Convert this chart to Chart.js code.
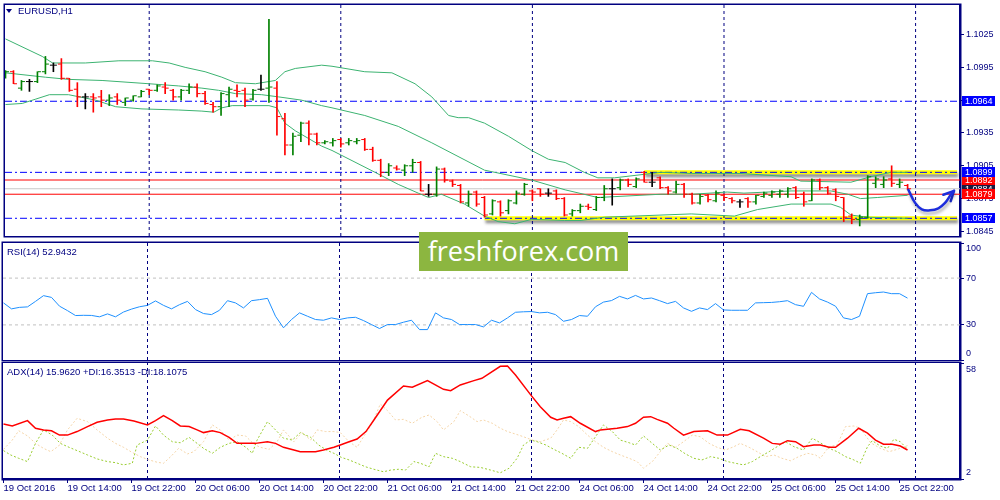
<!DOCTYPE html>
<html>
<head>
<meta charset="utf-8">
<title>EURUSD,H1</title>
<script src="https://cdn.jsdelivr.net/npm/chart.js@4.4.1/dist/chart.umd.min.js"></script>
<style>
  html, body { margin:0; padding:0; background:#ffffff; }
  #wrap { position:relative; width:1000px; height:500px; overflow:hidden; background:#ffffff; }
  #wrap canvas { position:absolute; left:0; }
  .ttl { position:absolute; font-family:"Liberation Sans", Arial, sans-serif; font-size:9.5px; line-height:12px; color:#000080; white-space:nowrap; }
  #tri { position:absolute; left:6px; top:9px; width:0; height:0; border-left:3.5px solid transparent; border-right:3.5px solid transparent; border-top:4px solid #000080; }
  #logo { position:absolute; left:419px; top:232px; width:209px; height:39px; background:#8cb640; color:#ffffff; font-family:"Open Sans", sans-serif; font-size:27px; line-height:38px; text-align:center; }
</style>
</head>
<body>
<div id="wrap">
  <canvas id="cMain" width="1000" height="241" style="top:0px"></canvas>
  <canvas id="cRsi" width="1000" height="120" style="top:241px"></canvas>
  <canvas id="cAdx" width="1000" height="139" style="top:361px"></canvas>
  <div id="tri"></div>
  <div class="ttl" style="left:18px;top:5px">EURUSD,H1</div>
  <div class="ttl" style="left:7px;top:246px">RSI(14) 52.9432</div>
  <div class="ttl" style="left:7px;top:366px">ADX(14) 15.9620 +DI:16.3513 -DI:18.1075</div>
  <div id="logo">freshforex.com</div>
</div>
<script>
// ---------------- DATA ----------------
const timeLabels = ['19 Oct 2016','19 Oct 14:00','19 Oct 22:00','20 Oct 06:00','20 Oct 14:00','20 Oct 22:00','21 Oct 06:00','21 Oct 14:00','21 Oct 22:00','24 Oct 06:00','24 Oct 14:00','24 Oct 22:00','25 Oct 06:00','25 Oct 14:00','25 Oct 22:00'];
const timeLabelBars = [0,8,16,24,32,40,48,56,64,72,80,88,96,104,112];
const daySeparators = [18,42,66,90,114];

const opens = [1.0986,1.0991,1.0976,1.0982,1.0982,1.0991,1.0997,1.0998,1.0985,1.0975,
1.0968,1.0968,1.0968,1.0965,1.0968,1.0963,1.0965,1.0968,1.0975,1.0974,
1.0977,1.0974,1.0968,1.0974,1.0977,1.0971,1.0961,1.0959,1.0970,1.0974,
1.0974,1.0966,1.0975,1.0976,1.0976,1.0948,1.0924,1.0933,1.0944,1.0934,
1.0926,1.0926,1.0929,1.0926,1.0927,1.0929,1.0920,1.0910,1.0899,1.0903,
1.0901,1.0905,1.0908,1.0879,1.0879,1.0902,1.0891,1.0887,1.0871,1.0881,
1.0876,1.0861,1.0872,1.0864,1.0871,1.0879,1.0882,1.0884,1.0880,1.0882,
1.0875,1.0861,1.0864,1.0868,1.0865,1.0876,1.0884,1.0885,1.0892,1.0886,
1.0899,1.0890,1.0894,1.0885,1.0881,1.0888,1.0879,1.0871,1.0878,1.0873,
1.0878,1.0875,1.0872,1.0875,1.0872,1.0877,1.0878,1.0879,1.0879,1.0885,
1.0879,1.0873,1.0892,1.0885,1.0883,1.0876,1.0859,1.0856,1.0858,1.0889,
1.0888,1.0893,1.0888,1.0887];
const highs = [1.0992,1.0992,1.0983,1.0984,1.0991,1.1005,1.0999,1.1003,1.0985,1.0981,
1.0971,1.0971,1.0974,1.0970,1.0971,1.0967,1.0969,1.0974,1.0975,1.0979,
1.0981,1.0975,1.0975,1.0980,1.0980,1.0973,1.0963,1.0972,1.0977,1.0979,
1.0976,1.0975,1.0988,1.1039,1.0982,1.0953,1.0935,1.0945,1.0946,1.0935,
1.0928,1.0930,1.0930,1.0930,1.0930,1.0930,1.0922,1.0911,1.0907,1.0905,
1.0906,1.0911,1.0909,1.0888,1.0904,1.0903,1.0892,1.0888,1.0882,1.0882,
1.0877,1.0874,1.0873,1.0874,1.0882,1.0889,1.0883,1.0884,1.0884,1.0883,
1.0876,1.0865,1.0870,1.0870,1.0877,1.0887,1.0893,1.0893,1.0893,1.0894,
1.0900,1.0899,1.0895,1.0886,1.0891,1.0889,1.0880,1.0879,1.0879,1.0882,
1.0879,1.0876,1.0874,1.0876,1.0878,1.0881,1.0882,1.0883,1.0885,1.0886,
1.0881,1.0893,1.0893,1.0886,1.0884,1.0876,1.0861,1.0860,1.0896,1.0895,
1.0895,1.0905,1.0893,1.0888];
const lows = [1.0985,1.0980,1.0974,1.0973,1.0981,1.0989,1.0991,1.0984,1.0973,1.0959,
1.0957,1.0954,1.0959,1.0960,1.0961,1.0960,1.0964,1.0968,1.0970,1.0973,
1.0971,1.0965,1.0965,1.0971,1.0968,1.0961,1.0954,1.0951,1.0959,1.0968,
1.0959,1.0965,1.0974,1.0963,1.0933,1.0915,1.0915,1.0927,1.0924,1.0924,
1.0925,1.0923,1.0922,1.0924,1.0925,1.0919,1.0909,1.0895,1.0896,1.0901,
1.0896,1.0899,1.0882,1.0877,1.0877,1.0890,1.0886,1.0871,1.0868,1.0868,
1.0858,1.0860,1.0859,1.0861,1.0870,1.0878,1.0873,1.0877,1.0877,1.0874,
1.0859,1.0859,1.0862,1.0865,1.0864,1.0873,1.0869,1.0883,1.0886,1.0885,
1.0890,1.0886,1.0884,1.0879,1.0880,1.0876,1.0870,1.0870,1.0872,1.0872,
1.0873,1.0871,1.0867,1.0867,1.0870,1.0876,1.0876,1.0876,1.0876,1.0875,
1.0868,1.0873,1.0883,1.0879,1.0873,1.0854,1.0852,1.0850,1.0857,1.0885,
1.0885,1.0886,1.0885,1.0883];
const closes = [1.0991,1.0980,1.0982,1.0982,1.0991,1.0998,1.0997,1.0985,1.0974,1.0968,
1.0968,1.0967,1.0965,1.0967,1.0965,1.0967,1.0969,1.0973,1.0974,1.0978,
1.0976,1.0968,1.0974,1.0977,1.0971,1.0962,1.0959,1.0971,1.0975,1.0973,
1.0965,1.0974,1.0975,1.0977,1.0950,1.0924,1.0932,1.0944,1.0934,1.0926,
1.0927,1.0928,1.0925,1.0928,1.0928,1.0920,1.0910,1.0899,1.0905,1.0902,
1.0905,1.0908,1.0882,1.0879,1.0902,1.0892,1.0888,1.0872,1.0879,1.0870,
1.0860,1.0873,1.0862,1.0873,1.0880,1.0888,1.0881,1.0879,1.0880,1.0875,
1.0860,1.0864,1.0868,1.0867,1.0876,1.0884,1.0884,1.0892,1.0888,1.0893,
1.0890,1.0890,1.0885,1.0882,1.0888,1.0879,1.0871,1.0877,1.0874,1.0880,
1.0876,1.0873,1.0872,1.0872,1.0878,1.0880,1.0881,1.0882,1.0884,1.0876,
1.0872,1.0892,1.0885,1.0880,1.0877,1.0858,1.0856,1.0858,1.0895,1.0893,
1.0892,1.0889,1.0890,1.0884];

// Bollinger bands: [bar, price]
const bbUpper = [[0,1.1021],[4.6,1.1005],[5.9,1.0999],[10,1.0999],[14.2,1.1001],[18.4,1.1001],[20.5,1.0999],[22.5,1.0995],[25,1.0991],[27.1,1.0986],[28.8,1.0981],[31.3,1.0980],[33.8,1.0983],[35,1.0991],[36.3,1.0994],[39.6,1.0997],[40.9,1.0996],[45,1.0991],[48.4,1.0990],[51.3,1.0980],[53.4,1.0968],[55.5,1.0951],[56.7,1.0949],[58,1.0949],[60,1.0944],[63,1.0932],[65.9,1.0919],[68,1.0911],[70.1,1.0908],[72.5,1.0899],[74.2,1.0894],[76.3,1.0894],[82.1,1.0899],[85.9,1.0898],[92,1.0898],[98.4,1.0895],[99.6,1.0891],[105.9,1.0890],[108.4,1.0895],[110.9,1.0899],[113,1.0899]];
const bbMiddle = [[0,1.0990],[5,1.0986],[7.9,1.0984],[12.1,1.0983],[18,1.0980],[21.7,1.0978],[24.6,1.0976],[26.7,1.0974],[28.8,1.0971],[32.1,1.0970],[34.2,1.0968],[37.1,1.0965],[39.6,1.0960],[40.9,1.0958],[45,1.0951],[49.2,1.0941],[53.4,1.0926],[60,1.0901],[65.9,1.0892],[70.1,1.0883],[74.2,1.0876],[82.1,1.0879],[86,1.0879],[90.4,1.0881],[92.5,1.0880],[98.4,1.0882],[103.4,1.0882],[105.5,1.0879],[107.1,1.0875],[109.2,1.0876],[113,1.0878]];
const bbLower = [[0,1.0961],[2.1,1.0962],[3.8,1.0966],[5.5,1.0970],[7.9,1.0970],[11.3,1.0965],[13.8,1.0959],[17.1,1.0957],[21.7,1.0956],[24.6,1.0955],[26.1,1.0954],[27.1,1.0958],[28.4,1.0960],[33,1.0960],[34,1.0958],[35,1.0944],[36.3,1.0937],[39.6,1.0923],[40.9,1.0919],[46.3,1.0899],[49.2,1.0888],[51.7,1.0880],[53,1.0876],[54.6,1.0879],[57.5,1.0870],[60,1.0859],[61.7,1.0854],[63.8,1.0852],[65.9,1.0856],[70,1.0855],[72.1,1.0855],[75,1.0858],[85.9,1.0861],[91.3,1.0859],[94.2,1.0865],[98.4,1.0870],[103.4,1.0870],[104.6,1.0867],[105.9,1.0860],[107.9,1.0858],[113,1.0857]];

// Price levels and drawn objects
const priceTicks = [1.0845,1.0875,1.0905,1.0935,1.0965,1.0995,1.1025];
const bluePriceLevels = [1.0964,1.0899,1.0857];
const redPriceLevels = [1.0892,1.0879];
const bidPrice = 1.0884;
const yellowTop = [[80,1.0899],[119.2,1.0899]];
const yellowBottom = [[60,1.0857],[119.2,1.0857]];
const arrowPath = [[113.1,1.08830],[113.94,1.08711],[114.78,1.08652],[115.81,1.08643],[116.85,1.08661],[117.69,1.08711],[118.4,1.08785],[118.81,1.08821]];
const arrowHead = [[117.48,1.08785],[118.81,1.08821],[118.4,1.08727]];

// RSI(14)
const rsiTicks = [0,30,70,100];
const rsiLevels = [30,70];
const rsiValues = [48.8,43.7,45.0,45.4,50.1,55.0,53.5,46.0,42.2,38.0,
38.2,38.1,36.9,39.4,36.9,41.0,43.5,45.5,46.7,50.5,
46.7,43.7,47.3,50.1,43.1,39.7,38.8,42.5,50.7,48.8,
44.5,50.7,51.6,52.7,37.4,27.5,34.6,40.3,37.4,34.6,
34.0,36.0,34.6,36.0,36.5,33.7,30.3,26.9,30.3,30.3,
32.3,34.0,26.0,26.0,40.3,36.0,34.6,30.3,30.3,30.3,
28.3,34.0,31.7,36.0,40.8,41.2,41.4,40.3,40.8,38.8,
33.1,34.6,38.0,37.4,45.5,49.5,50.8,54.4,52.2,55.2,
52.2,53.0,50.7,48.2,50.1,44.5,41.6,44.5,43.1,48.2,
42.8,42.5,42.5,42.5,48.8,49.0,49.2,49.8,50.7,47.3,
45.9,57.8,52.2,49.5,46.0,36.0,34.6,37.4,56.7,57.5,
58.1,56.7,56.7,52.9];

// ADX(14): [bar, value]
const adxTicks = [2,58];
const adxMain = [[0,28.6],[1.1,27.6],[3,30.2],[4,26.5],[5,25.7],[6,25.3],[7,23.2],[8,23.2],[9.2,24.9],[10.5,27.3],[11.7,29.4],[13,30.5],[14,31.0],[15,31.0],[16.3,30.0],[18,28.1],[19,30.2],[20,32.6],[21.1,30.2],[22.1,27.6],[23.2,27.3],[24.2,25.7],[25,24.4],[26.1,25.3],[27.1,24.4],[28.2,22.1],[29.2,19.2],[30.3,19.2],[31.5,19.2],[33,20.0],[34,19.2],[35,17.3],[36.3,16.0],[37.1,15.2],[39,15.2],[40,16.0],[41.3,17.3],[42.1,18.4],[43.2,20.0],[44.2,21.3],[45.3,24.9],[46.3,30.5],[48,40.1],[50,46.9],[51.1,46.3],[53,49.5],[55,45.3],[55.9,44.6],[57.1,47.4],[58.8,49.5],[59.8,50.6],[62.1,56.4],[63,56.6],[64,52.2],[65.9,42.6],[67.1,36.9],[68.4,31.8],[69.2,30.5],[70,31.3],[70.9,32.1],[72.1,28.9],[74,24.9],[74.6,25.7],[76.7,26.5],[78,27.3],[79,28.9],[80,31.8],[80.9,32.1],[81.7,30.8],[83,28.9],[83.8,26.5],[85,23.2],[86.3,24.9],[88,25.3],[89.2,23.2],[90.5,23.2],[92.1,26.0],[93.2,25.3],[95,21.7],[96.1,19.2],[97.1,18.8],[98,20.5],[99,20.0],[100,17.6],[101.3,18.4],[102.1,18.4],[103.2,17.3],[104,17.3],[105.5,21.7],[106.9,26.5],[108,24.1],[109,20.8],[110,18.8],[111.1,18.8],[112.1,17.9],[113,16.0]];
const plusDI = [[0,15.7],[0.9,13.6],[1.9,12.0],[3,10.4],[4,19.2],[5,25.7],[6.1,23.2],[7.1,19.2],[8.2,17.3],[9.2,15.7],[10.5,13.6],[11.7,11.7],[13,10.4],[14,9.9],[15,8.8],[16.1,9.6],[16.7,18.4],[18,20.8],[19,27.6],[20,23.2],[21.1,20.0],[22.1,19.5],[23.2,22.1],[24.2,19.2],[25,16.8],[26.1,14.4],[27.1,17.3],[28.2,19.2],[29.2,20.0],[30.3,17.3],[31.1,14.4],[31.7,20.8],[33,29.7],[34,25.7],[35,21.7],[36.1,20.8],[37.1,24.4],[38.4,22.1],[39.4,18.4],[40.5,15.7],[41.3,14.4],[42.2,12.5],[43.2,11.2],[44.2,9.6],[45.25,7.9],[46.3,6.7],[47.5,5.5],[48.4,6.3],[49.4,6.7],[50.25,6.3],[51.3,10.4],[52.1,9.6],[53.2,7.9],[54,14.4],[55,12.8],[56.1,12.0],[57.1,10.4],[58.4,7.9],[59.6,7.6],[60.9,6.3],[62.1,5.0],[63.2,7.2],[64.2,12.0],[65,18.4],[65.9,20.8],[66.7,20.0],[67.8,18.4],[68.8,16.3],[69.8,14.4],[70.9,12.0],[71.9,17.3],[73,16.8],[74,22.4],[75,28.1],[76.1,24.9],[77.1,20.8],[78.2,19.5],[79,18.4],[80,22.8],[81.1,19.2],[82.1,16.0],[83.2,18.4],[84.2,16.8],[85.25,14.1],[86.3,12.0],[87.3,11.2],[88.4,12.8],[89.4,12.0],[90.5,10.4],[91.5,9.6],[92.5,8.8],[93.6,10.4],[94.6,12.8],[95.7,15.2],[96.7,17.6],[97.75,20.0],[98.8,17.6],[100,16.0],[101.1,21.7],[102.1,19.5],[103.2,16.8],[104.2,15.2],[105.25,12.8],[106.3,11.2],[107.1,9.6],[108,17.6],[108.6,20.5],[109.6,17.9],[110.5,16.8],[111.3,21.2],[112.1,20.0],[113,16.4]];
const minusDI = [[0,16.3],[1.1,20.8],[1.9,25.3],[3,22.8],[4,19.2],[5,16.8],[5.9,15.2],[6.9,17.9],[8,25.7],[9.2,31.3],[10.5,29.7],[11.7,25.7],[13,21.7],[14,19.2],[15,17.3],[16.1,14.8],[17.1,12.8],[18.2,11.2],[19.2,10.1],[20,9.6],[20.9,12.8],[21.9,16.8],[23,14.1],[23.8,15.2],[25,20.0],[26.1,28.1],[27.1,25.7],[28.2,20.8],[29.2,23.2],[30.25,22.8],[31.3,18.8],[32.1,17.3],[33.2,16.3],[34.2,20.0],[35,25.7],[36.3,20.0],[37.3,24.4],[38.4,20.8],[39.2,25.7],[40.25,24.9],[41.3,24.9],[42.1,24.4],[43.2,20.0],[44.2,17.3],[45,22.4],[46.1,28.9],[47.1,38.2],[48,35.0],[49,30.5],[50,30.8],[51.1,28.9],[52.3,31.8],[53.2,32.9],[54.2,29.7],[55,25.7],[56.3,29.7],[57.1,35.0],[58.2,32.4],[59.2,29.7],[60,30.5],[61.1,28.9],[62.1,26.5],[63,24.9],[64,23.7],[65,22.4],[66.1,20.8],[67.1,20.0],[68.4,21.7],[69.2,25.7],[70,30.5],[70.9,29.7],[71.9,27.3],[73,23.2],[74,20.0],[75,17.3],[76.1,15.2],[77.1,13.6],[78.2,12.0],[79.2,10.4],[80,7.2],[81.1,10.4],[82.1,15.2],[83,19.2],[84,17.3],[85,20.0],[86.1,23.2],[87.1,22.4],[88.2,19.2],[89.2,17.3],[90.25,16.0],[91.3,17.6],[92.1,19.2],[93.2,17.3],[94.2,15.2],[95.25,12.8],[96.3,13.6],[97.3,12.0],[98.4,10.8],[99.4,12.8],[100.5,14.4],[101.5,13.6],[102.1,12.0],[103.2,17.6],[104.2,18.4],[105.25,27.3],[106.3,27.6],[107.1,26.5],[108.4,19.5],[109.6,16.8],[110.7,15.2],[111.7,16.3],[113,18.1]];

// ---------------- STYLE / BUILD ----------------
const NAVY = '#000080', GREEN = '#008000', RED = '#FF0000', BLUE = '#0000FF';
const FONT = "'Liberation Sans', Arial, sans-serif";
Chart.defaults.font.family = FONT;
Chart.defaults.font.size = 9.5;
Chart.defaults.color = NAVY;

const X_MIN = -0.0625, X_MAX = 119.5625;
const P_MIN = 1.08408, P_MAX = 1.10520;

const idx = opens.map((_, i) => i);
const barColors = idx.map(i => closes[i] > opens[i] ? GREEN : (closes[i] < opens[i] ? RED : '#000000'));
const pts = arr => arr.map(p => ({x: p[0], y: p[1]}));
const hline = (y, color, width, dash, order) => ({type:'line', data:[{x:X_MIN, y}, {x:X_MAX, y}], borderColor:color, borderWidth:width, borderDash:dash, pointRadius:0, order});
const sepSets = (lo, hi) => daySeparators.map(s => ({type:'line', data:[{x:s, y:lo}, {x:s, y:hi}], borderColor:NAVY, borderWidth:1, borderDash:[3,3], pointRadius:0, order:90}));
const noPad = s => { s.paddingTop = 0; s.paddingBottom = 0; s.paddingLeft = 0; s.paddingRight = 0; };

const shadowPlugin = {
  id:'shadow',
  beforeDatasetDraw(chart, args) {
    const ds = chart.data.datasets[args.index];
    if (ds.shadow) { const c = chart.ctx; c.save(); c.shadowColor = ds.shadow; c.shadowBlur = 3; c.shadowOffsetX = 1; c.shadowOffsetY = 3; }
  },
  afterDatasetDraw(chart, args) {
    const ds = chart.data.datasets[args.index];
    if (ds.shadow) chart.ctx.restore();
  }
};
const framePlugin = {
  id:'frame',
  afterDraw(chart) {
    const {ctx, chartArea:a} = chart;
    ctx.save(); ctx.strokeStyle = NAVY; ctx.lineWidth = 1.5;
    ctx.strokeRect(a.left - 0.75, a.top - 0.75, a.right - a.left + 1.5, a.bottom - a.top + 1.5);
    ctx.restore();
  }
};
const priceMarks = [
  {price:bidPrice, bg:'#1a1a40', fg:'#ffffff'},
  {price:bluePriceLevels[0], bg:BLUE, fg:'#ffffff'},
  {price:bluePriceLevels[2], bg:BLUE, fg:'#ffffff'},
  {price:redPriceLevels[0], bg:RED, fg:'#ffffff'},
  {price:bluePriceLevels[1], bg:BLUE, fg:'#ffffff'},
  {price:redPriceLevels[1], bg:RED, fg:'#ffffff'}
];
const priceBoxPlugin = {
  id:'priceBoxes',
  afterDraw(chart) {
    const ctx = chart.ctx, ys = chart.scales.y;
    ctx.save(); ctx.font = '9px ' + FONT; ctx.textBaseline = 'middle';
    priceMarks.forEach(m => {
      const y = ys.getPixelForValue(m.price);
      ctx.fillStyle = m.bg; ctx.fillRect(962, Math.round(y) - 5, 33, 10);
      ctx.fillStyle = m.fg; ctx.fillText(m.price.toFixed(4), 965, Math.round(y) + 0.5);
    });
    ctx.restore();
  }
};
const sideLabelPlugin = (ticks, dys, fmt) => ({
  id:'sideLabels',
  afterDraw(chart) {
    const ctx = chart.ctx, ys = chart.scales.y;
    ctx.save(); ctx.font = '9px ' + FONT; ctx.textBaseline = 'middle'; ctx.fillStyle = NAVY;
    ticks.forEach((v, k) => ctx.fillText(fmt(v), 966, ys.getPixelForValue(v) + dys[k]));
    ctx.restore();
  }
});

const common = {
  responsive:false, animation:false, events:[],
  plugins:{legend:{display:false}, tooltip:{enabled:false}}
};
const hiddenX = {type:'linear', display:false, min:X_MIN, max:X_MAX, offset:false};
const sideY = (min, max, ticks) => ({
  type:'linear', position:'right', min, max,
  afterFit(s) { s.width = 40; noPad(s); },
  afterBuildTicks(s) { s.ticks = ticks.map(v => ({value:v})); },
  ticks:{display:false},
  grid:{drawOnChartArea:false, drawTicks:true, tickLength:4, tickColor:NAVY},
  border:{display:true, color:NAVY, width:2}
});

// ---- main price chart ----
new Chart(document.getElementById('cMain'), {
  type:'line',
  data:{datasets:[
    hline(bidPrice, '#C8C8C8', 1, [], 100),
    ...redPriceLevels.map(p => hline(p, RED, 1, [], 99)),
    {type:'line', data:pts(yellowTop), borderColor:'#FFFF00', borderWidth:4, pointRadius:0, order:98, shadow:'rgba(0,0,0,0.45)'},
    {type:'line', data:pts(yellowBottom), borderColor:'#FFFF00', borderWidth:4, pointRadius:0, order:98, shadow:'rgba(0,0,0,0.45)'},
    ...bluePriceLevels.map(p => hline(p, BLUE, 1, [7,3,2,3], 97)),
    ...sepSets(P_MIN, P_MAX),
    {type:'line', data:pts(bbUpper), borderColor:'#3CB371', borderWidth:1, pointRadius:0, order:50},
    {type:'line', data:pts(bbMiddle), borderColor:'#3CB371', borderWidth:1, pointRadius:0, order:50},
    {type:'line', data:pts(bbLower), borderColor:'#3CB371', borderWidth:1, pointRadius:0, order:50},
    {type:'bar', data:idx.map(i => ({x:i, y:[lows[i], highs[i]]})), backgroundColor:barColors, barThickness:1, borderWidth:0, order:10},
    {type:'line', data:idx.map(i => ({x:i - 0.25, y:opens[i]})), showLine:false, pointStyle:'line', pointRadius:1.5, pointBorderWidth:1, pointBorderColor:barColors, pointBackgroundColor:barColors, order:5},
    {type:'line', data:idx.map(i => ({x:i + 0.25, y:closes[i]})), showLine:false, pointStyle:'line', pointRadius:1.5, pointBorderWidth:1, pointBorderColor:barColors, pointBackgroundColor:barColors, order:5},
    {type:'line', data:pts(arrowPath), borderColor:'#1E2EDC', borderWidth:2.5, tension:0.45, pointRadius:0, borderCapStyle:'round', order:1, shadow:'rgba(0,0,0,0.3)'},
    {type:'line', data:pts(arrowHead), borderColor:'#1E2EDC', borderWidth:2.5, pointRadius:0, borderCapStyle:'round', borderJoinStyle:'round', order:1}
  ]},
  options:{...common,
    layout:{padding:{left:3, top:2, right:0, bottom:2}},
    scales:{x:hiddenX, y:sideY(P_MIN, P_MAX, priceTicks)}
  },
  plugins:[shadowPlugin, framePlugin, sideLabelPlugin(priceTicks, priceTicks.map(() => 0), v => v.toFixed(4)), priceBoxPlugin]
});

// ---- RSI ----
new Chart(document.getElementById('cRsi'), {
  type:'line',
  data:{datasets:[
    ...rsiLevels.map(v => hline(v, '#C0C0C0', 1, [3,3], 100)),
    ...sepSets(0, 100),
    {type:'line', data:rsiValues.map((v, i) => ({x:i, y:v})), borderColor:'#1E90FF', borderWidth:1, pointRadius:0, order:1}
  ]},
  options:{...common,
    layout:{padding:{left:3, top:2, right:0, bottom:1}},
    scales:{x:hiddenX, y:sideY(0, 100, rsiTicks)}
  },
  plugins:[framePlugin, sideLabelPlugin(rsiTicks, [-6.5, 0, 0, 6], v => String(v))]
});

// ---- ADX ----
new Chart(document.getElementById('cAdx'), {
  type:'line',
  data:{datasets:[
    ...sepSets(2, 58),
    {type:'line', data:pts(minusDI), borderColor:'#F5D5A8', borderWidth:1, borderDash:[2,2], pointRadius:0, order:30},
    {type:'line', data:pts(plusDI), borderColor:'#9ACD32', borderWidth:1, borderDash:[2,2], pointRadius:0, order:20},
    {type:'line', data:pts(adxMain), borderColor:RED, borderWidth:1.5, pointRadius:0, order:1}
  ]},
  options:{...common,
    layout:{padding:{left:3, top:2, right:0, bottom:0}},
    scales:{
      x:{type:'linear', position:'bottom', min:X_MIN, max:X_MAX, offset:false,
         afterFit(s) { s.height = 21; noPad(s); },
         afterBuildTicks(s) { s.ticks = timeLabelBars.map(v => ({value:v})); },
         ticks:{autoSkip:false, maxRotation:0, minRotation:0, align:'start', padding:0, color:NAVY, font:{size:9.5},
                callback:(v, k) => timeLabels[k]},
         grid:{drawOnChartArea:false, drawTicks:true, tickLength:4, tickColor:NAVY},
         border:{display:true, color:NAVY, width:1.5}},
      y:sideY(2, 58, adxTicks)
    }
  },
  plugins:[framePlugin, sideLabelPlugin(adxTicks, [-6.5, 7], v => String(v))]
});
</script>
</body>
</html>
